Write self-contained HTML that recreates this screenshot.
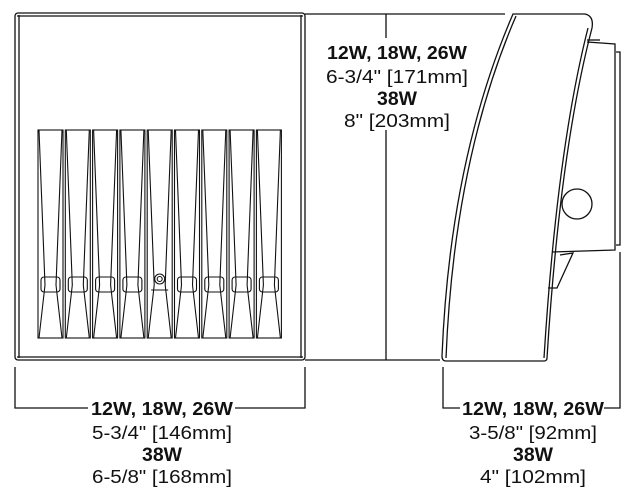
<!DOCTYPE html>
<html><head><meta charset="utf-8"><style>
html,body{margin:0;padding:0;background:#fff;}
svg{display:block;}
text{font-family:"Liberation Sans",Arial,sans-serif;fill:#111;}
.b{font-weight:bold;}
</style></head><body>
<svg width="638" height="503" viewBox="0 0 638 503" xmlns="http://www.w3.org/2000/svg">
<g fill="none" stroke="#111" stroke-width="1.3">
  <rect x="15" y="13" width="290" height="347" rx="3"/>
  <line x1="19" y1="15" x2="19" y2="358"/>
  <line x1="301" y1="15" x2="301" y2="358"/>
  <line x1="17" y1="357" x2="303" y2="357"/>
  <line x1="17" y1="16" x2="303" y2="16"/>
</g>
<g fill="none" stroke="#111" stroke-width="1.1">
  <g transform="translate(0,0)">
    <rect x="38" y="130" width="25" height="208"/>
    <path d="M39 130 L45 285 L39 338 M62 130 L56 285 L62 338"/>
    <rect x="41" y="277" width="19" height="15" rx="3"/>
  </g>
  <g transform="translate(27.3,0)">
    <rect x="38" y="130" width="25" height="208"/>
    <path d="M39 130 L45 285 L39 338 M62 130 L56 285 L62 338"/>
    <rect x="41" y="277" width="19" height="15" rx="3"/>
  </g>
  <g transform="translate(54.6,0)">
    <rect x="38" y="130" width="25" height="208"/>
    <path d="M39 130 L45 285 L39 338 M62 130 L56 285 L62 338"/>
    <rect x="41" y="277" width="19" height="15" rx="3"/>
  </g>
  <g transform="translate(81.9,0)">
    <rect x="38" y="130" width="25" height="208"/>
    <path d="M39 130 L45 285 L39 338 M62 130 L56 285 L62 338"/>
    <rect x="41" y="277" width="19" height="15" rx="3"/>
  </g>
  <g transform="translate(109.2,0)">
    <rect x="38" y="130" width="25" height="208"/>
    <path d="M39 130 L45 285 L39 338 M62 130 L56 285 L62 338"/>
    <line x1="42" y1="290" x2="59" y2="290"/>
    <circle cx="50.5" cy="279" r="5"/>
    <circle cx="50.5" cy="279" r="2.5"/>
  </g>
  <g transform="translate(136.5,0)">
    <rect x="38" y="130" width="25" height="208"/>
    <path d="M39 130 L45 285 L39 338 M62 130 L56 285 L62 338"/>
    <rect x="41" y="277" width="19" height="15" rx="3"/>
  </g>
  <g transform="translate(163.8,0)">
    <rect x="38" y="130" width="25" height="208"/>
    <path d="M39 130 L45 285 L39 338 M62 130 L56 285 L62 338"/>
    <rect x="41" y="277" width="19" height="15" rx="3"/>
  </g>
  <g transform="translate(191.1,0)">
    <rect x="38" y="130" width="25" height="208"/>
    <path d="M39 130 L45 285 L39 338 M62 130 L56 285 L62 338"/>
    <rect x="41" y="277" width="19" height="15" rx="3"/>
  </g>
  <g transform="translate(218.4,0)">
    <rect x="38" y="130" width="25" height="208"/>
    <path d="M39 130 L45 285 L39 338 M62 130 L56 285 L62 338"/>
    <rect x="41" y="277" width="19" height="15" rx="3"/>
  </g>
</g>
<g fill="none" stroke="#111" stroke-width="1.3">
  <path d="M513 14 L585 14 Q594 16 592 28 Q560 150 547 358 Q547 361 544 361 L446 361 Q442 361 442 356 Q450 160 513 14 Z"/>
  <path d="M516 16 Q454 160 446 358"/>
  <path d="M588 28 Q557 150 544 358"/>
  <path d="M587 42 L615 44 L615 250 L552 252"/>
  <path d="M587 40 L600 40"/>
  <path d="M616 52 L620 52 L620 245 L616 245"/>
  <circle cx="577" cy="204" r="15"/>
  <path d="M560 255 L573 253 L557 288 L548 288"/>
  <line x1="305" y1="14" x2="505" y2="14"/>
  <line x1="305" y1="360" x2="440" y2="360"/>
  <line x1="386" y1="14" x2="386" y2="38"/>
  <line x1="386" y1="130" x2="386" y2="360"/>
  <polyline points="15,367 15,408 88,408"/>
  <polyline points="235,408 305,408 305,367"/>
  <polyline points="443,367 443,408 460,408"/>
  <polyline points="604,408 620,408 620,252"/>
</g>
<g text-anchor="middle" font-size="18">
  <text class="b" x="397" y="59" textLength="140" lengthAdjust="spacingAndGlyphs">12W, 18W, 26W</text>
  <text x="397" y="83" textLength="142" lengthAdjust="spacingAndGlyphs">6-3/4" [171mm]</text>
  <text class="b" x="397" y="105" font-size="19" textLength="40" lengthAdjust="spacingAndGlyphs">38W</text>
  <text x="397" y="127" textLength="106" lengthAdjust="spacingAndGlyphs">8" [203mm]</text>

  <text class="b" x="162" y="415" textLength="142" lengthAdjust="spacingAndGlyphs">12W, 18W, 26W</text>
  <text x="162" y="439" textLength="140" lengthAdjust="spacingAndGlyphs">5-3/4" [146mm]</text>
  <text class="b" x="162" y="461" font-size="19" textLength="40" lengthAdjust="spacingAndGlyphs">38W</text>
  <text x="162" y="483" textLength="140" lengthAdjust="spacingAndGlyphs">6-5/8" [168mm]</text>

  <text class="b" x="533" y="415" textLength="142" lengthAdjust="spacingAndGlyphs">12W, 18W, 26W</text>
  <text x="533" y="439" textLength="128" lengthAdjust="spacingAndGlyphs">3-5/8" [92mm]</text>
  <text class="b" x="533" y="461" font-size="19" textLength="40" lengthAdjust="spacingAndGlyphs">38W</text>
  <text x="533" y="483" textLength="106" lengthAdjust="spacingAndGlyphs">4" [102mm]</text>
</g>
</svg>
</body></html>
